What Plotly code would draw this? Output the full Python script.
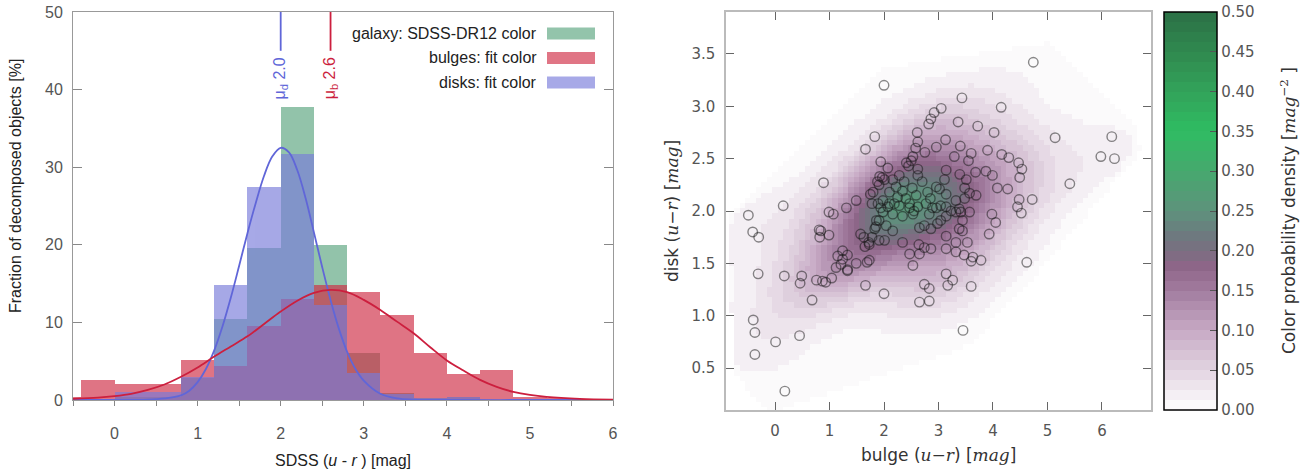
import numpy as np
import plotly.graph_objects as go

# ---------------- left panel: colour histograms (percent per 0.4 mag bin) ----------------
bin_centers = [-0.6, -0.2, 0.2, 0.6, 1.0, 1.4, 1.8, 2.2, 2.6, 3.0, 3.4, 3.8, 4.2, 4.6, 5.0, 5.4, 5.8]
galaxy_pct = [0, 0, 0.4, 0.4, 2.8, 10.4, 19.6, 37.8, 20.0, 6.1, 0.9, 0.2, 0.4, 0, 0, 0, 0]
bulge_pct = [0.4, 2.6, 2.1, 2.1, 5.2, 4.4, 9.5, 13.0, 14.8, 13.9, 10.9, 6.0, 3.4, 3.9, 0.4, 0.3, 0]
disk_pct = [0, 0, 1.0, 1.0, 3.0, 14.8, 27.4, 31.7, 12.2, 3.5, 0.8, 0.2, 0.4, 0, 0, 0, 0]
bin_width = 0.4

# fitted profiles
disk_fit_x = [-0.5, 0.0, 0.4, 0.6, 0.8, 0.9, 1.0, 1.1, 1.2, 1.3, 1.4, 1.5, 1.6, 1.7, 1.8, 1.9,
              2.0, 2.1, 2.2, 2.3, 2.4, 2.5, 2.6, 2.7, 2.8, 2.9, 3.0, 3.2, 3.4, 3.6, 4.0, 5.0, 6.0]
disk_fit_y = [0.0, 0.0, 0.05, 0.2, 0.6, 1.2, 2.3, 4.0, 6.4, 9.5, 13.2, 17.3, 21.5, 25.4, 28.9, 31.4,
              32.5, 31.9, 29.6, 26.0, 21.6, 17.1, 12.9, 9.2, 6.2, 4.0, 2.5, 0.8, 0.2, 0.05, 0.0, 0.0, 0.0]
bulge_fit_x = [-0.5, -0.2, 0.0, 0.2, 0.4, 0.6, 0.8, 1.0, 1.2, 1.4, 1.6, 1.8, 2.0, 2.2, 2.4, 2.6,
               2.8, 3.0, 3.2, 3.4, 3.6, 3.8, 4.0, 4.2, 4.4, 4.6, 4.8, 5.0, 5.2, 5.6, 6.0]
bulge_fit_y = [0.15, 0.3, 0.5, 0.8, 1.3, 2.0, 3.0, 4.2, 5.6, 6.9, 8.2, 9.8, 11.4, 12.8, 13.8, 14.2,
               13.9, 12.9, 11.6, 10.1, 8.6, 6.8, 5.1, 3.8, 2.6, 1.7, 1.05, 0.65, 0.4, 0.15, 0.05]
mu_disk = 2.0
mu_bulge = 2.6

# ---------------- right panel: bulge vs disk colours ----------------
bulge_color = [
    -0.49, -0.41, -0.30, -0.31, -0.40, -0.37, -0.37, 0.01, 0.45, 0.18,
    0.15, 0.17, 0.49, 0.46, 0.68, 0.76, 0.87, 0.93, 1.04,
    0.89, 0.99, 1.07, 1.31, 1.49, 1.75,
    0.81, 0.84, 0.82, 0.99,
    1.57, 1.63, 1.72, 1.65,
    1.33, 1.24, 1.21, 1.12, 1.33, 1.33, 1.49, 1.69, 1.66, 2.00, 1.24, 1.15,
    2.00, 1.83, 1.66, 1.94,
    1.78, 1.94, 1.91, 1.85, 1.78, 1.91, 1.88, 1.97, 1.91,
    3.43, 4.15, 3.05, 2.92, 2.86, 2.82, 3.36, 3.72, 4.02, 2.61, 3.13, 2.62, 2.96, 3.40,
    3.60, 3.90, 4.16, 4.29, 3.29, 3.55, 2.75, 2.58, 2.53, 2.50, 2.41, 2.45, 2.07, 1.92,
    2.01, 2.62, 2.62, 3.14, 3.11, 3.39, 3.51, 3.48, 3.57, 3.69, 3.48, 3.68, 3.87, 3.99,
    4.08, 4.27,
    2.96, 3.02, 2.96, 3.14, 2.80, 2.59, 2.62, 2.34, 2.22, 2.10, 2.19, 1.98, 2.07, 1.80,
    1.89, 2.47, 2.77, 3.14, 3.32, 3.38,
    2.28, 2.37, 2.16, 2.40, 2.52, 2.70, 2.85, 2.25, 2.55,
    2.10, 2.28, 2.47, 2.53, 2.34, 2.16, 1.98, 1.86, 2.04, 1.83, 2.16, 2.01, 1.73, 2.34, 1.73,
    2.65, 2.74, 2.86, 2.98, 3.04, 3.14, 3.23, 3.32, 3.41, 3.57, 3.44, 3.38, 3.44, 2.83,
    2.89, 3.04,
    3.98, 4.05, 3.93,
    2.64, 2.74, 2.65, 2.47, 2.53, 2.86, 3.14, 3.14, 3.32, 3.53, 3.32, 3.47, 3.60, 3.63, 3.78,
    3.14, 3.26, 3.17, 2.74, 2.83, 2.65, 2.83, 3.60, 3.45,
    4.74, 5.14, 6.18, 5.98, 6.23, 4.47, 4.53, 4.49, 4.48, 4.45, 4.52, 4.72, 5.41, 4.62,
]
disk_color = [
    1.96, 1.80, 1.75, 1.40, 0.96, 0.84, 0.63, 0.75, 0.81, 0.28,
    2.05, 1.38, 1.38, 1.31, 1.15, 1.34, 1.33, 1.32, 1.36,
    2.27, 1.99, 1.97, 2.03, 2.10, 2.16,
    1.82, 1.81, 1.75, 1.77,
    1.78, 1.75, 1.70, 1.66,
    1.58, 1.54, 1.49, 1.46, 1.44, 1.43, 1.50, 1.51, 1.29, 1.21, 1.62, 1.57,
    3.20, 2.71, 2.59, 2.47,
    2.07, 2.03, 1.91, 1.85, 1.75, 1.72, 2.28, 2.32, 2.25,
    3.08, 2.99, 2.98, 2.94, 2.88, 2.83, 2.85, 2.81, 2.75, 2.75, 2.68, 2.66, 2.61, 2.62,
    2.55, 2.58, 2.54, 2.51, 2.52, 2.48, 2.56, 2.60, 2.52, 2.48, 2.46, 2.43, 2.41, 2.33,
    2.30, 2.40, 2.34, 2.39, 2.30, 2.35, 2.30, 2.22, 2.17, 2.15, 2.12, 2.37, 2.38, 2.34,
    2.22, 2.21,
    2.23, 2.21, 2.03, 2.16, 2.18, 2.15, 2.04, 2.19, 2.23, 2.18, 2.07, 2.10, 2.04, 2.18,
    2.07, 2.07, 2.07, 2.04, 2.10, 2.02,
    2.34, 2.28, 2.30, 2.12, 2.22, 2.28, 2.12, 2.13, 2.00,
    2.07, 2.05, 2.03, 1.97, 1.95, 1.97, 1.99, 1.91, 1.86, 1.83, 1.81, 1.72, 1.68, 1.70, 1.53,
    1.84, 1.86, 1.83, 1.88, 1.91, 1.95, 2.00, 1.99, 1.99, 1.99, 1.91, 1.83, 1.81, 1.97,
    2.03, 2.05,
    1.97, 1.89, 1.78,
    1.68, 1.65, 1.59, 1.59, 1.48, 1.64, 1.76, 1.64, 1.70, 1.70, 1.61, 1.58, 1.52, 1.56, 1.53,
    1.40, 1.34, 1.29, 1.30, 1.26, 1.13, 1.14, 1.28, 0.86,
    3.42, 2.70, 2.71, 2.52, 2.50, 2.46, 2.40, 2.32, 2.11, 2.04, 1.98, 2.11, 2.26, 1.51,
]
density_ticks = [0.0, 0.05, 0.10, 0.15, 0.20, 0.25, 0.30, 0.35, 0.40, 0.45, 0.50]

# ---------------- kernel density of the colour pairs ----------------
pts = np.column_stack([bulge_color, disk_color])
n_pts = len(pts)
bw = 1.3 * n_pts ** (-1.0 / 6.0)
cov = np.cov(pts.T) * bw ** 2
icov = np.linalg.inv(cov)
norm = 1.0 / (2 * np.pi * np.sqrt(np.linalg.det(cov)) * n_pts)
gx = np.round(np.arange(-0.9, 6.91, 0.1), 3)
gy = np.round(np.arange(0.1, 3.91, 0.05), 3)
GX, GY = np.meshgrid(gx, gy)
diff = np.stack([GX.ravel(), GY.ravel()], 1)[:, None, :] - pts[None, :, :]
quad = np.einsum("gni,ij,gnj->gn", diff, icov, diff)
dens = (np.exp(-0.5 * quad).sum(1) * norm).reshape(GX.shape)


def convex_hull(p):
    p = sorted(set(map(tuple, p)))

    def cross(o, a, b):
        return (a[0] - o[0]) * (b[1] - o[1]) - (a[1] - o[1]) * (b[0] - o[0])

    lower, upper = [], []
    for q in p:
        while len(lower) >= 2 and cross(lower[-2], lower[-1], q) <= 0:
            lower.pop()
        lower.append(q)
    for q in reversed(p):
        while len(upper) >= 2 and cross(upper[-2], upper[-1], q) <= 0:
            upper.pop()
        upper.append(q)
    return np.array(lower[:-1] + upper[:-1])


# density is only shown inside the (slightly enlarged) hull of the sample
hull = convex_hull(pts)
centre = pts.mean(0)
hull = centre + (hull - centre) * 1.13
inside = np.ones(GX.shape, bool)
for i in range(len(hull)):
    a, b = hull[i], hull[(i + 1) % len(hull)]
    inside &= ((b[0] - a[0]) * (GY - a[1]) - (b[1] - a[1]) * (GX - a[0])) >= 0
dens = np.where(inside, dens, np.nan)

# banded white -> purple -> green colour map
anchors = [
    (0.00, (255, 255, 255)), (0.04, (243, 238, 243)), (0.10, (226, 212, 225)),
    (0.20, (198, 169, 196)), (0.30, (162, 124, 159)), (0.36, (142, 101, 137)),
    (0.40, (122, 111, 128)), (0.44, (109, 122, 127)), (0.50, (94, 146, 124)),
    (0.60, (70, 169, 110)), (0.70, (47, 188, 98)), (0.80, (50, 163, 90)),
    (0.90, (48, 137, 79)), (1.00, (43, 112, 70)),
]
av = np.array([a[0] for a in anchors])
ac = np.array([a[1] for a in anchors], float)
n_bands = 40
cscale = []
for k in range(n_bands):
    mid = (k + 0.5) / n_bands
    c = [int(round(np.interp(mid, av, ac[:, j]))) for j in range(3)]
    col = f"rgb({c[0]},{c[1]},{c[2]})"
    cscale.append([k / n_bands, col])
    cscale.append([(k + 1) / n_bands, col])

# ---------------- figure ----------------
W, H = 1312, 473
GREEN, RED, BLUE = "#59a47e", "#cf2b43", "#787bda"
LINE_BLUE, LINE_RED = "#6066d8", "#cc1f3e"
LS = "Liberation Sans"
DJ = "DejaVu Sans"

fig = go.Figure()
for name, vals, col in [("galaxy: SDSS-DR12 color", galaxy_pct, GREEN),
                        ("bulges: fit color", bulge_pct, RED),
                        ("disks: fit color", disk_pct, BLUE)]:
    fig.add_trace(go.Bar(x=bin_centers, y=vals, width=bin_width, name=name,
                         marker=dict(color=col, line=dict(width=0)), opacity=0.65,
                         xaxis="x", yaxis="y", showlegend=False))

fig.add_trace(go.Scatter(x=disk_fit_x, y=disk_fit_y, mode="lines", line=dict(color=LINE_BLUE, width=1.8, shape="spline"),
                         xaxis="x", yaxis="y", showlegend=False))
fig.add_trace(go.Scatter(x=bulge_fit_x, y=bulge_fit_y, mode="lines", line=dict(color=LINE_RED, width=1.8, shape="spline"),
                         xaxis="x", yaxis="y", showlegend=False))
for mu, col in [(mu_disk, LINE_BLUE), (mu_bulge, LINE_RED)]:
    fig.add_trace(go.Scatter(x=[mu, mu], y=[45, 50], mode="lines", line=dict(color=col, width=1.8),
                             xaxis="x", yaxis="y", showlegend=False, cliponaxis=False))

fig.add_trace(go.Heatmap(x=gx, y=gy, z=dens, zmin=0, zmax=0.5, colorscale=cscale,
                         xaxis="x2", yaxis="y2", hoverongaps=False,
                         colorbar=dict(x=1164 / W, xanchor="left", y=(H - 410) / H, yanchor="bottom",
                                       len=(410 - 12) / H, lenmode="fraction", thickness=53, thicknessmode="pixels",
                                       outlinecolor="black", outlinewidth=1.5,
                                       tickvals=density_ticks, tickformat=".2f", ticks="inside", ticklen=7,
                                       tickcolor="#555", tickfont=dict(family=DJ, size=15, color="#555"),
                                       xpad=0, ypad=0)))
fig.add_trace(go.Scatter(x=bulge_color, y=disk_color, mode="markers",
                         marker=dict(symbol="circle-open", size=9.5, color="rgba(20,20,20,0.5)", line=dict(width=1.4)),
                         xaxis="x2", yaxis="y2", showlegend=False))

# legend drawn at the top right of the histogram panel
leg_rows = [("galaxy: SDSS-DR12 color", GREEN), ("bulges: fit color", RED), ("disks: fit color", BLUE)]
shapes, annotations = [], []
for i, (label, col) in enumerate(leg_rows):
    yc = 33.5 + 24.5 * i
    shapes.append(dict(type="rect", xref="paper", yref="paper", x0=547 / W, x1=595 / W,
                       y0=(H - yc - 6) / H, y1=(H - yc + 6) / H, fillcolor=col, opacity=0.65,
                       line=dict(width=0)))
    annotations.append(dict(text=label, xref="paper", yref="paper", x=539 / W, y=(H - yc) / H,
                            xanchor="right", yanchor="middle", showarrow=False,
                            font=dict(family=LS, size=16, color="#222")))

annotations += [
    dict(text="μ<sub>d</sub> 2.0", x=mu_disk, y=41.4, xref="x", yref="y", textangle=-90, showarrow=False,
         xanchor="center", yanchor="middle", font=dict(family=LS, size=16, color=LINE_BLUE)),
    dict(text="μ<sub>b</sub> 2.6", x=mu_bulge, y=41.4, xref="x", yref="y", textangle=-90, showarrow=False,
         xanchor="center", yanchor="middle", font=dict(family=LS, size=16, color=LINE_RED)),
    dict(text="Fraction of decomposed objects [%]", xref="paper", yref="paper", x=15 / W, y=(H - 186) / H,
         textangle=-90, showarrow=False, xanchor="center", yanchor="middle",
         font=dict(family=LS, size=16, color="#222")),
    dict(text="SDSS (<i>u</i> - <i>r</i> ) [mag]", xref="paper", yref="paper", x=343 / W, y=(H - 460) / H,
         showarrow=False, xanchor="center", yanchor="middle", font=dict(family=LS, size=16, color="#222")),
    dict(text="bulge (<span style='font-family:DejaVu Serif'><i>u</i>−<i>r</i></span>) [<span style='font-family:DejaVu Serif'><i>mag</i></span>]",
         xref="paper", yref="paper", x=938 / W, y=(H - 455) / H, showarrow=False,
         xanchor="center", yanchor="middle", font=dict(family=DJ, size=17, color="#333")),
    dict(text="disk (<span style='font-family:DejaVu Serif'><i>u</i>−<i>r</i></span>) [<span style='font-family:DejaVu Serif'><i>mag</i></span>]",
         xref="paper", yref="paper", x=672 / W, y=(H - 211) / H, textangle=-90, showarrow=False,
         xanchor="center", yanchor="middle", font=dict(family=DJ, size=17, color="#333")),
    dict(text="Color probability density [<span style='font-family:DejaVu Serif'><i>mag</i><sup>−2</sup></span> ]",
         xref="paper", yref="paper", x=1288 / W, y=(H - 211) / H, textangle=-90, showarrow=False,
         xanchor="center", yanchor="middle", font=dict(family=DJ, size=17, color="#333")),
]

fig.update_layout(
    width=W, height=H, margin=dict(l=0, r=0, t=0, b=0),
    paper_bgcolor="white", plot_bgcolor="white", barmode="overlay", bargap=0,
    showlegend=False, shapes=shapes, annotations=annotations,
    xaxis=dict(domain=[73 / W, 613 / W], range=[-0.5, 6], anchor="y",
               tickvals=[0, 1, 2, 3, 4, 5, 6], ticks="outside", ticklen=5, tickcolor="#888",
               minor=dict(dtick=0.5, tick0=0, ticks="outside", ticklen=5, tickcolor="#888"),
               showline=True, linecolor="#999", linewidth=1, mirror=True, showgrid=False, zeroline=False,
               tickfont=dict(family=LS, size=16, color="#555"), ticklabelstandoff=14, automargin=False),
    xaxis3=dict(overlaying="x", side="top", range=[-0.5, 6], anchor="y", matches="x",
                tickvals=[0, 1, 2, 3, 4, 5, 6], ticks="inside", ticklen=8, tickcolor="#888",
                minor=dict(dtick=0.5, tick0=0, ticks="inside", ticklen=8, tickcolor="#888"),
                showticklabels=False, showgrid=False, zeroline=False, showline=False),
    yaxis=dict(domain=[(H - 400) / H, (H - 12) / H], range=[0, 50], anchor="x",
               tickvals=[0, 10, 20, 30, 40, 50], ticks="inside", ticklen=9, tickcolor="#888",
               showline=True, linecolor="#999", linewidth=1, mirror="ticks", showgrid=False, zeroline=False,
               tickfont=dict(family=LS, size=16, color="#555"), ticklabelstandoff=6, automargin=False),
    xaxis2=dict(domain=[726 / W, 1151 / W], range=[-0.9, 6.9], anchor="y2",
                tickvals=[0, 1, 2, 3, 4, 5, 6], ticks="inside", ticklen=8, tickcolor="#666",
                showline=True, linecolor="#bbb", linewidth=1.5, mirror="ticks", showgrid=False, zeroline=False,
                tickfont=dict(family=DJ, size=15, color="#555"), ticklabelstandoff=6, automargin=False),
    yaxis2=dict(domain=[(H - 410) / H, (H - 12) / H], range=[0.1, 3.9], anchor="x2",
                tickvals=[0.5, 1.0, 1.5, 2.0, 2.5, 3.0, 3.5], tickformat=".1f", ticks="inside", ticklen=8,
                tickcolor="#666", showline=True, linecolor="#bbb", linewidth=1.5, mirror="ticks",
                showgrid=False, zeroline=False,
                tickfont=dict(family=DJ, size=15, color="#555"), ticklabelstandoff=6, automargin=False),
)

fig.write_html("out.html")
